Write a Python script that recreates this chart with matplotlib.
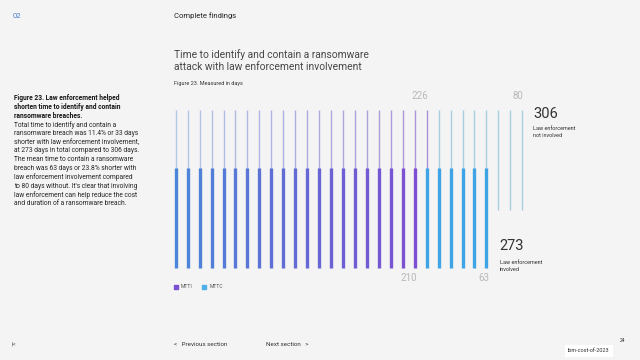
import matplotlib
matplotlib.use("Agg")
import matplotlib.pyplot as plt
import numpy as np
from matplotlib.colors import to_rgb

plt.rcParams['font.family'] = ['Roboto', 'DejaVu Sans']

# values in days
groups = ["Law enforcement not involved", "Law enforcement involved"]
mtti = [226, 210]
mttc = [80, 63]
totals = [306, 273]
series = ["MTTI", "MTTC"]

body_title = ["Figure 23. Law enforcement helped",
              "shorten time to identify and contain",
              "ransomware breaches."]
body_text = ["Total time to identify and contain a",
             "ransomware breach was 11.4% or 33 days",
             "shorter with law enforcement involvement,",
             "at 273 days in total compared to 306 days.",
             "The mean time to contain a ransomware",
             "breach was 63 days or 23.8% shorter with",
             "law enforcement involvement compared",
             "to 80 days without. It's clear that involving",
             "law enforcement can help reduce the cost",
             "and duration of a ransomware breach."]

days_per_line = totals[0] / 30
bg = "#f4f4f4"
W, H = 640, 360


def px(x, y):
    # pixel position -> figure fraction
    return x / W, 1 - y / H


def blend(c1, c2, t):
    a, b = np.array(to_rgb(c1)), np.array(to_rgb(c2))
    return tuple(a + (b - a) * t)


fig = plt.figure(figsize=(6.4, 3.6), dpi=100, facecolor=bg)

# chart axes: index 0 at x=175.7px, spacing 11.95px
x0, dx = 175.7, 11.95
left, right = 160, 545
ax = fig.add_axes([left / W, 1 - 290 / H, (right - left) / W, 200 / H])
ax.set_facecolor(bg)
ax.set_xlim(-(x0 - left) / dx, (right - x0) / dx)
ax.set_ylim(0, 1)
ax.axis("off")

# rows: (bottom, top) in axes units, line width, colours
rows = [
    dict(y=(0.40, 0.90), lw=1.0, c_start="#b3c8e6", c_end="#a893d6", c2="#a9cde0"),
    dict(y=(0.11, 0.61), lw=2.4, c_start="#4a86d8", c_end="#7c4fd2", c2="#3ea4e6"),
]

for gi, row in enumerate(rows):
    n1 = int(round(mtti[gi] / days_per_line))
    n2 = int(round(mttc[gi] / days_per_line))
    xs1 = np.arange(n1)
    xs2 = np.arange(n1, n1 + n2)
    cols1 = [blend(row["c_start"], row["c_end"], i / max(n1 - 1, 1)) for i in xs1]
    ax.vlines(xs1, row["y"][0], row["y"][1], colors=cols1, lw=row["lw"], zorder=2 + gi)
    ax.vlines(xs2, row["y"][0], row["y"][1], colors=row["c2"], lw=row["lw"], zorder=2 + gi)
    if gi == 0:
        ax.text(n1 - 1 - 0.6, 0.97, str(mtti[gi]), ha="center", va="center", fontsize=7, color="#b8b8b8")
        ax.text(n1 + n2 - 1 - 0.4, 0.97, str(mttc[gi]), ha="center", va="center", fontsize=7, color="#b8b8b8")
        ax.text(n1 + n2 - 1 + 0.9, 0.88, str(totals[gi]), ha="left", va="center", fontsize=10.5, color="#333333")
        ax.text(n1 + n2 - 1 + 0.9, 0.79, "Law enforcement\nnot involved", ha="left", va="center",
                fontsize=4, color="#333333", linespacing=1.3)
    else:
        ax.text(n1 - 1 - 0.5, 0.06, str(mtti[gi]), ha="center", va="center", fontsize=7, color="#b8b8b8")
        ax.text(n1 + n2 - 1 - 0.2, 0.06, str(mttc[gi]), ha="center", va="center", fontsize=7, color="#b8b8b8")
        ax.text(n1 + n2 - 1 + 1.1, 0.22, str(totals[gi]), ha="left", va="center", fontsize=10.5, color="#333333")
        ax.text(n1 + n2 - 1 + 1.1, 0.12, "Law enforcement\ninvolved", ha="left", va="center",
                fontsize=4, color="#333333", linespacing=1.3)

# legend
leg_cols = ["#7a4fd0", "#4fb0e8"]
for i, (name, c) in enumerate(zip(series, leg_cols)):
    ax.scatter([i * 2.35], [0.015], marker="s", s=6, color=c, clip_on=False)
    ax.text(i * 2.35 + 0.45, 0.015, name, ha="left", va="center", fontsize=3.6, color="#555555")

# page text
fig.text(*px(13, 16), "02", fontsize=5.5, color="#4a7fc8", va="center")
fig.text(*px(174, 16), "Complete findings", fontsize=5.5, color="#222222", va="center")
fig.text(*px(174, 54.5), "Time to identify and contain a ransomware", fontsize=7.4, color="#474747", va="center")
fig.text(*px(174, 67), "attack with law enforcement involvement", fontsize=7.4, color="#474747", va="center")
fig.text(*px(174, 84), "Figure 23. Measured in days", fontsize=4, color="#333333", va="center")

# left column, one line every 8.77 px
for i, line in enumerate(body_title + body_text):
    bold = i < len(body_title)
    fig.text(*px(14, 98.3 + 8.77 * i), line, fontsize=4.8, va="center",
             fontweight="bold" if bold else "normal", color="#161616" if bold else "#262626")

# footer
fig.text(*px(12, 344), "|<", fontsize=4.5, color="#555555", va="center")
fig.text(*px(174, 344), "<   Previous section", fontsize=4.5, color="#333333", va="center")
fig.text(*px(266, 344), "Next section   >", fontsize=4.5, color="#333333", va="center")
fig.text(*px(620, 341), "24", fontsize=3.5, color="#333333", va="center")
fig.text(*px(568, 351), "ibm-cost-of-2023", fontsize=4, color="#333333", va="center",
         bbox=dict(boxstyle="square,pad=0.6", fc="white", ec="none"))

fig.savefig("out.png", dpi=100, facecolor=bg)
